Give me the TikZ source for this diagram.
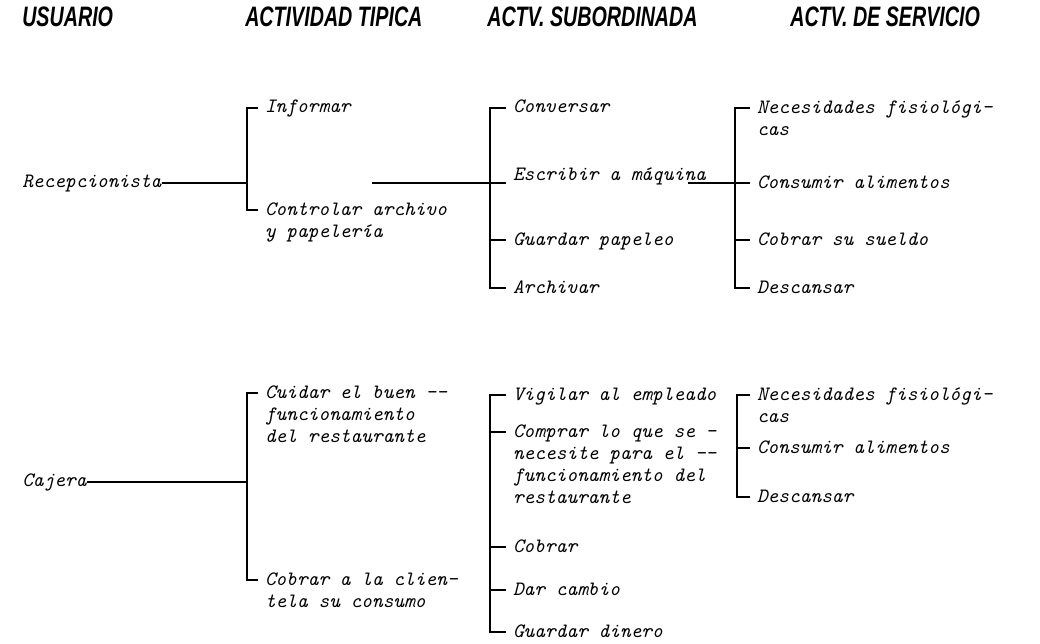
\documentclass[tikz,border=0pt]{standalone}
\usepackage{fontspec}
\newfontfamily\headfont[FakeStretch=0.7]{Liberation Sans}
\newcommand{\itemfont}{\fontsize{14.5}{15.6}\selectfont\ttfamily\itshape}
\usetikzlibrary{calc}

\tikzset{
  hdr/.style={anchor=base west, inner sep=0pt, font=\headfont\bfseries\itshape\fontsize{20}{22}\selectfont},
  txt/.style={anchor=base west, inner sep=0pt, align=left, font=\itemfont},
  item/.style={txt, outer xsep=5pt},
  rama/.style={line width=1.1pt},
}

\begin{document}
\begin{tikzpicture}[x=0.025cm, y=-0.025cm]
\useasboundingbox (0,0) rectangle (1040,644);

% Column headings
\node[hdr] (h1) at (22,27) {USUARIO};
\node[hdr] (h2) at (245,27) {ACTIVIDAD TIPICA};
\node[hdr] (h3) at (487,27) {ACTV. SUBORDINADA};
\node[hdr] (h4) at (790,27) {ACTV. DE SERVICIO};

% Recepcionista (multi-line nodes sit on their last baseline)
\node[txt] (rec) at (22,187) {Recepcionista};
\coordinate (a1) at (247,108);
\coordinate (a2) at (247,210);
\node[item] (inf) at (258,113) {Informar};
\node[item] (ctl) at (258,237) {Controlar archivo\\y papelería};
\draw[rama] (rec.east) -- (rec.east -| a1);
\draw[rama] (inf.west |- a1) -- (a1) -- (a2) -- (ctl.west |- a2);

% Subordinate activities (recepcionista)
\coordinate (j1) at (372,183);
\coordinate (b1) at (490,108);
\coordinate (b3) at (490,240);
\coordinate (b4) at (490,288);
\node[item] (conv) at (506,113) {Conversar};
\node[item] (esc) at (506,181) {Escribir a máquina};
\node[item] (guar) at (506,245) {Guardar papeleo};
\node[item] (arch) at (506,293) {Archivar};
\draw[rama] (conv.west |- b1) -- (b1) -- (b4) -- (arch.west |- b4);
\draw[rama] (b3) -- (guar.west |- b3);
\draw[rama] (j1) -- (esc.west |- j1);

% Service activities (recepcionista)
\coordinate (c1) at (735,108);
\coordinate (c2) at (735,183);
\coordinate (c3) at (735,240);
\coordinate (c4) at (735,288);
\node[item] (nec) at (750,135) {Necesidades fisiológi-\\cas};
\node[item] (cons) at (750,188) {Consumir alimentos};
\node[item] (cobs) at (750,245) {Cobrar su sueldo};
\node[item] (desc) at (750,293) {Descansar};
\draw[rama] (nec.west |- c1) -- (c1) -- (c4) -- (desc.west |- c4);
\draw[rama] (c3) -- (cobs.west |- c3);
\draw[rama] (esc.east |- c2) ++(-25,0) -- (cons.west |- c2);

% Cajera
\node[txt] (caj) at (22,486) {Cajera};
\coordinate (d1) at (247,393);
\coordinate (d2) at (247,580);
\node[item] (cui) at (258,442) {Cuidar el buen --\\funcionamiento\\del restaurante};
\node[item] (cli) at (258,607) {Cobrar a la clien-\\tela su consumo};
\draw[rama] (caj.east) -- (caj.east -| d1);
\draw[rama] (cui.west |- d1) -- (d1) -- (d2) -- (cli.west |- d2);

% Subordinate activities (cajera)
\coordinate (e1) at (490,395);
\coordinate (e2) at (490,432);
\coordinate (e3) at (490,547);
\coordinate (e4) at (490,590);
\coordinate (e5) at (490,632);
\node[item] (vig) at (506,400) {Vigilar al empleado};
\node[item] (comp) at (506,503) {Comprar lo que se -\\necesite para el --\\funcionamiento del\\restaurante};
\node[item] (cbr) at (506,552) {Cobrar};
\node[item] (dar) at (506,595) {Dar cambio};
\node[item] (din) at (506,637) {Guardar dinero};
\draw[rama] (vig.west |- e1) -- (e1) -- (e5) -- (din.west |- e5);
\draw[rama] (e2) -- (comp.west |- e2);
\draw[rama] (e3) -- (cbr.west |- e3);
\draw[rama] (e4) -- (dar.west |- e4);

% Service activities (cajera)
\coordinate (f1) at (737,395);
\coordinate (f2) at (737,448);
\coordinate (f3) at (737,497);
\node[item] (nec2) at (750,422) {Necesidades fisiológi-\\cas};
\node[item] (cons2) at (750,453) {Consumir alimentos};
\node[item] (desc2) at (750,502) {Descansar};
\draw[rama] (nec2.west |- f1) -- (f1) -- (f3) -- (desc2.west |- f3);
\draw[rama] (f2) -- (cons2.west |- f2);

\end{tikzpicture}
\end{document}
